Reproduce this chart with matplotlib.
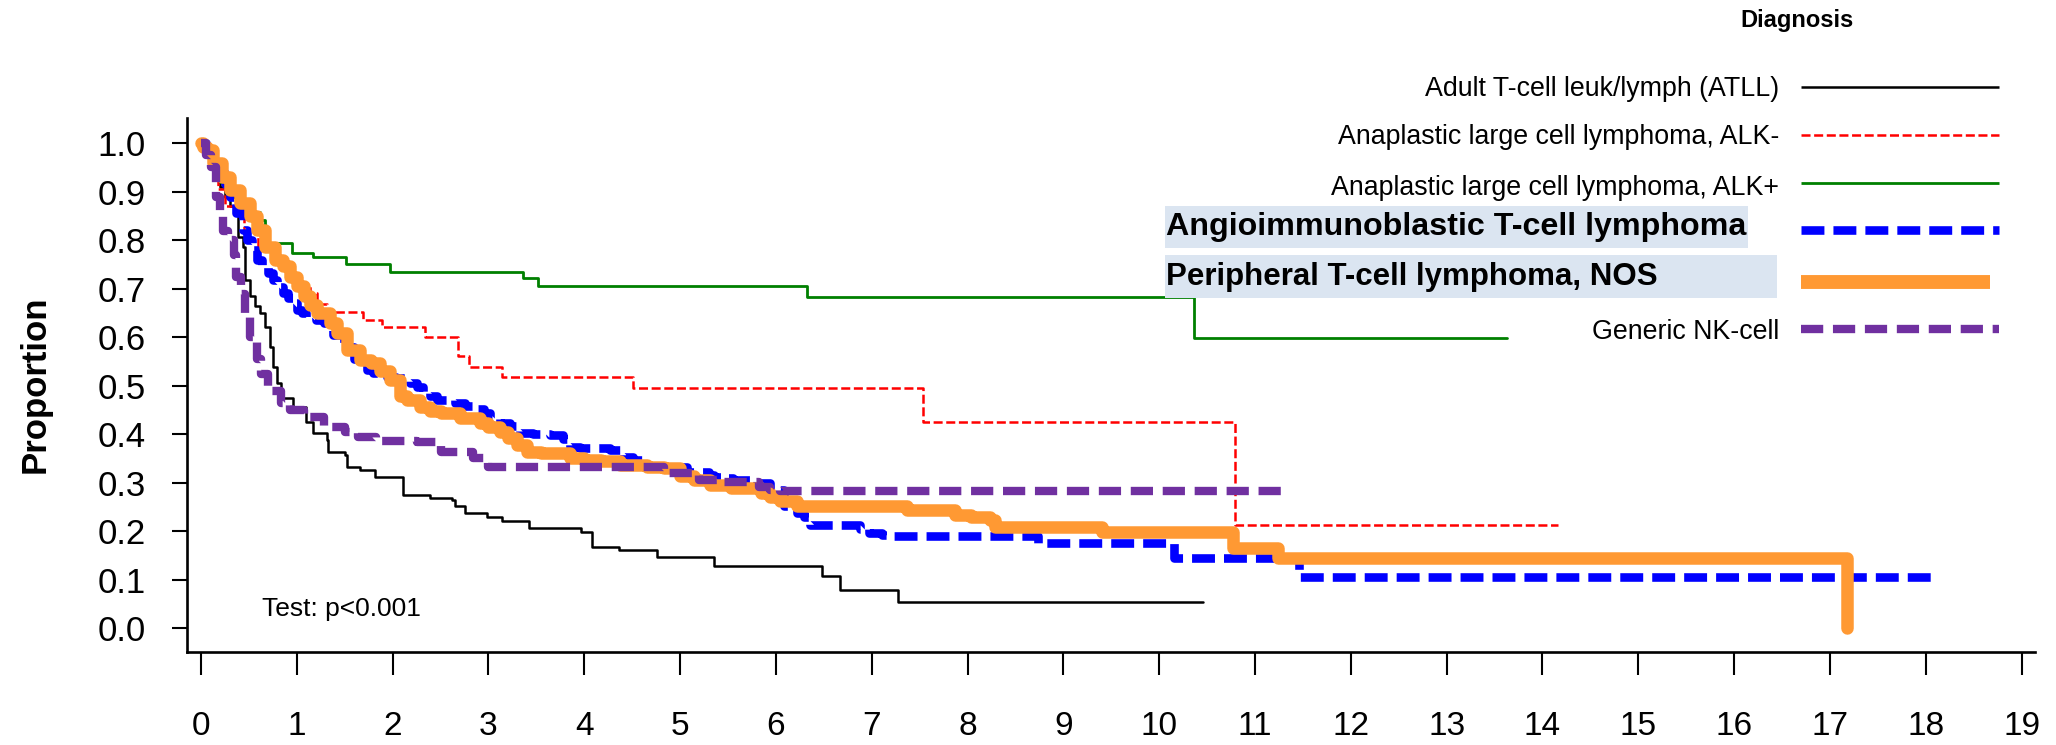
import matplotlib
matplotlib.use("Agg")
import matplotlib.pyplot as plt
from matplotlib.patches import Rectangle

plt.rcParams['font.family'] = ['Liberation Sans', 'DejaVu Sans']
plt.rcParams['lines.scale_dashes'] = False

# Kaplan-Meier estimates (time in years, proportion surviving)
atll_t = [0, 0.05, 0.1, 0.15, 0.2, 0.25, 0.3, 0.34, 0.39, 0.44, 0.46, 0.51, 0.56, 0.62, 0.67,
          0.72, 0.755, 0.79, 0.84, 0.96, 1.10, 1.17, 1.31, 1.33, 1.50, 1.52, 1.66, 1.82, 2.11,
          2.39, 2.62, 2.65, 2.76, 2.98, 3.14, 3.42, 3.97, 4.08, 4.36, 4.76, 5.35, 6.48, 6.67,
          7.27, 10.46]
atll_s = [1.0, 0.98, 0.96, 0.93, 0.91, 0.89, 0.87, 0.856, 0.807, 0.787, 0.718, 0.684, 0.665, 0.65, 0.622,
          0.58, 0.539, 0.505, 0.474, 0.457, 0.426, 0.402, 0.388, 0.364, 0.357, 0.333, 0.326, 0.311, 0.275,
          0.268, 0.265, 0.251, 0.237, 0.230, 0.222, 0.206, 0.199, 0.168, 0.161, 0.146, 0.129, 0.108, 0.078,
          0.055, 0.055]

alkneg_t = [0, 0.1, 0.18, 0.25, 0.35, 0.45, 0.6, 0.8, 0.93, 1.0, 1.14, 1.21, 1.31, 1.69, 1.886,
            2.34, 2.686, 2.80, 3.14, 4.51, 7.53, 10.79, 14.16]
alkneg_s = [1.0, 0.95, 0.905, 0.87, 0.853, 0.82, 0.78, 0.75, 0.72, 0.706, 0.691, 0.668, 0.652, 0.636, 0.622,
            0.6, 0.561, 0.539, 0.517, 0.495, 0.425, 0.213, 0.213]

alkpos_t = [0, 0.05, 0.1, 0.15, 0.2, 0.3, 0.4, 0.51, 0.615, 0.668, 0.686, 0.947, 1.172, 1.51,
            1.973, 3.364, 3.52, 6.32, 10.36, 13.63]
alkpos_s = [1.0, 0.98, 0.96, 0.94, 0.92, 0.89, 0.866, 0.859, 0.842, 0.811, 0.795, 0.774, 0.766, 0.751,
            0.735, 0.722, 0.706, 0.682, 0.599, 0.599]

aitl_t = [0, 0.05, 0.1, 0.15, 0.2, 0.25, 0.3, 0.37, 0.44, 0.48, 0.53, 0.58, 0.64, 0.70, 0.75,
          0.79, 0.86, 0.91, 0.96, 1.0, 1.05, 1.1, 1.2, 1.28, 1.38, 1.49, 1.6, 1.73, 1.80, 1.94,
          2.04, 2.18, 2.25, 2.32, 2.39, 2.46, 2.65, 2.76, 2.85, 2.95, 3.02, 3.12, 3.23, 3.33, 3.47,
          3.64, 3.78, 3.85, 3.96, 4.27, 4.41, 4.51, 4.65, 5.07, 5.30, 5.35, 5.49, 5.55, 5.80, 5.94,
          6.08, 6.22, 6.29, 6.36, 6.88, 6.97, 7.11, 7.19, 8.73, 10.15, 11.46, 18.06]
aitl_s = [1.0, 0.985, 0.97, 0.955, 0.938, 0.915, 0.89, 0.856, 0.821, 0.80, 0.780, 0.759, 0.746, 0.732, 0.718,
          0.704, 0.691, 0.68, 0.67, 0.656, 0.649, 0.642, 0.635, 0.629, 0.605, 0.58, 0.556, 0.533, 0.526, 0.518,
          0.515, 0.505, 0.498, 0.488, 0.478, 0.471, 0.464, 0.458, 0.452, 0.443, 0.433, 0.423, 0.416, 0.402, 0.400,
          0.399, 0.39, 0.374, 0.371, 0.368, 0.354, 0.347, 0.333, 0.323, 0.316, 0.312, 0.309, 0.306, 0.299, 0.285,
          0.251, 0.237, 0.230, 0.213, 0.205, 0.196, 0.193, 0.190, 0.175, 0.144, 0.106, 0.106]

ptcl_t = [0, 0.02, 0.06, 0.13, 0.22, 0.30, 0.41, 0.51, 0.58, 0.67, 0.77, 0.86, 0.93, 1.0, 1.07,
          1.14, 1.21, 1.35, 1.42, 1.52, 1.66, 1.77, 1.87, 1.97, 2.08, 2.15, 2.29, 2.39, 2.50, 2.70,
          2.91, 3.0, 3.12, 3.2, 3.30, 3.40, 3.55, 3.68, 3.85, 4.0, 4.17, 4.37, 4.65, 4.83, 5.0,
          5.15, 5.31, 5.53, 5.84, 5.94, 6.04, 6.22, 7.37, 7.87, 8.04, 8.23, 8.29, 9.40, 10.77, 11.24,
          17.18, 17.18]
ptcl_s = [1.0, 0.993, 0.986, 0.959, 0.931, 0.904, 0.876, 0.849, 0.821, 0.787, 0.759, 0.746, 0.725, 0.705, 0.684,
          0.667, 0.65, 0.629, 0.608, 0.574, 0.553, 0.546, 0.53, 0.512, 0.478, 0.471, 0.457, 0.447, 0.443, 0.433,
          0.423, 0.415, 0.405, 0.392, 0.378, 0.364, 0.362, 0.361, 0.351, 0.346, 0.344, 0.337, 0.333, 0.330, 0.313,
          0.306, 0.296, 0.289, 0.278, 0.27, 0.262, 0.253, 0.244, 0.234, 0.230, 0.223, 0.209, 0.199, 0.165, 0.144,
          0.144, 0.0]

nk_t = [0, 0.05, 0.1, 0.16, 0.2, 0.23, 0.28, 0.34, 0.37, 0.42, 0.46, 0.51, 0.58, 0.63, 0.70,
        0.83, 0.93, 1.07, 1.28, 1.5, 1.64, 1.83, 2.25, 2.46, 2.50, 2.84, 2.98, 3.0, 4.83, 5.2,
        5.43, 5.82, 5.94, 6.04, 11.35]
nk_s = [1.0, 0.975, 0.95, 0.89, 0.86, 0.82, 0.80, 0.77, 0.725, 0.69, 0.65, 0.60, 0.555, 0.525, 0.49,
        0.465, 0.45, 0.436, 0.415, 0.405, 0.395, 0.387, 0.385, 0.378, 0.364, 0.352, 0.343, 0.333, 0.32, 0.306,
        0.302, 0.292, 0.285, 0.282, 0.282]

labels = ['Adult T-cell leuk/lymph (ATLL)', 'Anaplastic large cell lymphoma, ALK-',
          'Anaplastic large cell lymphoma, ALK+', 'Angioimmunoblastic T-cell lymphoma',
          'Peripheral T-cell lymphoma, NOS', 'Generic NK-cell']
x_ticks = list(range(0, 20))
y_ticks = [0.0, 0.1, 0.2, 0.3, 0.4, 0.5, 0.6, 0.7, 0.8, 0.9, 1.0]

# line styles: colour, width, dashes (None = solid)
styles = [('black', 1.8, None),
          ('#ff0000', 1.8, (6.5, 2.6)),
          ('#008000', 2.0, None),
          ('#0000ff', 6.2, (16.5, 6.5)),
          ('#ff9933', 9.0, None),
          ('#7030a0', 6.0, (16.0, 7.0))]

curves = [(atll_t, atll_s), (alkneg_t, alkneg_s), (alkpos_t, alkpos_s),
          (aitl_t, aitl_s), (ptcl_t, ptcl_s), (nk_t, nk_s)]

W, H = 2056, 745
fig = plt.figure(figsize=(W / 100, H / 100), dpi=100)
ax = fig.add_axes([187 / W, 1 - 652 / H, (2035 - 187) / W, (652 - 118) / H])

for (t, s), (col, lw, dash) in zip(curves, styles):
    line, = ax.step(t, s, where='post', color=col, lw=lw,
                    solid_joinstyle='round', solid_capstyle='round')
    if dash is not None:
        line.set_dashes(dash)
        line.set_dash_capstyle('butt')

ax.set_xlim(-0.146, 19.14)
ax.set_ylim(-0.049, 1.052)
ax.set_xticks(x_ticks)
ax.set_yticks(y_ticks)
ax.set_yticklabels(['%.1f' % v for v in y_ticks])
for side in ['top', 'right']:
    ax.spines[side].set_visible(False)
for side in ['left', 'bottom']:
    ax.spines[side].set_linewidth(1.9)
ax.tick_params(axis='x', direction='out', length=16.5, width=1.5, pad=26, labelsize=24)
ax.tick_params(axis='y', direction='out', length=10.8, width=1.5, pad=19, labelsize=25)
ax.text(0.64, 0.025, 'Test: p<0.001', fontsize=19, va='baseline', ha='left')

fig.text(35 / W, 1 - 384 / H, 'Proportion', rotation=90, fontsize=25,
         fontweight='bold', ha='center', va='center')

# legend drawn in pixel coordinates on a transparent overlay
lax = fig.add_axes([0, 0, 1, 1])
lax.set_xlim(0, W)
lax.set_ylim(H, 0)
lax.axis('off')
lax.patch.set_alpha(0)

lax.text(1797, 21, 'Diagnosis', fontsize=17, fontweight='bold', ha='center', va='center')
text_y = [89, 137, 188, 227, 277, 332]
line_y = [87, 135, 183, 230, 282, 329]
boxes = {3: (1165, 206, 583, 42), 4: (1165, 255, 612, 43)}
for i, lab in enumerate(labels):
    col, lw, dash = styles[i]
    if i in boxes:
        bx, by, bw, bh = boxes[i]
        lax.add_patch(Rectangle((bx, by), bw, bh, facecolor='#dbe5f1', edgecolor='none'))
        lax.text(1166, text_y[i], lab, fontsize=23.2 if i == 3 else 22.5,
                 fontweight='bold', ha='left', va='center')
    else:
        lax.text(1779, text_y[i], lab, fontsize=19.3, ha='right', va='center')
    x1 = 1990 if i == 4 else 1999
    key, = lax.plot([1801, x1], [line_y[i], line_y[i]], color=col, lw=(10.0 if i == 4 else lw),
                    solid_capstyle='butt')
    if dash is not None:
        key.set_dashes(dash)
        key.set_dash_capstyle('butt')

fig.savefig('out.png', dpi=100)
